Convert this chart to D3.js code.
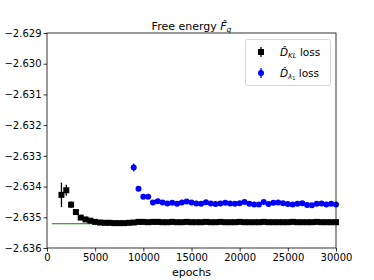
<!DOCTYPE html>
<html><head><meta charset="utf-8">
<script src="https://cdn.jsdelivr.net/npm/d3@7"></script>
<style>body{margin:0;background:#fff}svg{display:block}text{font-family:"DejaVu Sans",sans-serif}</style>
</head><body><svg id="c" width="374" height="280"></svg>
<script>
const klEpochs = d3.range(1500, 30001, 500);
const klValues = [-2.63427,-2.63412,-2.63459,-2.63483,-2.63501,-2.63507,-2.63511,-2.63515,-2.63517,-2.63518,
 -2.63518,-2.63519,-2.63519,-2.63519,-2.63518,-2.63517,-2.63515,-2.63515,-2.63516,-2.63515,
 -2.63515,-2.63516,-2.63516,-2.63515,-2.63516,-2.63516,-2.63515,-2.63516,-2.63516,-2.63516,
 -2.63515,-2.63516,-2.63516,-2.63515,-2.63516,-2.63516,-2.63516,-2.63515,-2.63516,-2.63516,
 -2.63516,-2.63516,-2.63515,-2.63516,-2.63516,-2.63516,-2.63516,-2.63516,-2.63515,-2.63516,
 -2.63516,-2.63516,-2.63516,-2.63515,-2.63516,-2.63516,-2.63516,-2.63516];
const klErrors = [0.0004,0.00018,0.0001,0.00005].concat(d3.range(54).map(()=>0.00003));
const lamEpochs = d3.range(9000, 30001, 500);
const lamValues = [-2.63338,-2.63407,-2.63433,-2.63433,
 -2.63452,-2.63448,-2.63452,-2.63455,-2.63453,-2.63456,-2.63452,-2.63449,-2.63452,-2.63455,
 -2.63456,-2.63451,-2.63455,-2.63457,-2.63455,-2.63453,-2.63455,-2.63456,-2.63454,-2.63450,
 -2.63456,-2.63458,-2.63458,-2.63450,-2.63457,-2.63453,-2.63452,-2.63454,-2.63457,-2.63458,
 -2.63456,-2.63454,-2.63460,-2.63461,-2.63456,-2.63455,-2.63458,-2.63456,-2.63458];
const lamErrors = [0.00013,0.00008,0.00006,0.00006].concat(d3.range(39).map(()=>0.00005));
const refLine = {x0: 500, x1: 30000, y: -2.63521};
const xTicks = [0,5000,10000,15000,20000,25000,30000];
const yTicks = [-2.636,-2.635,-2.634,-2.633,-2.632,-2.631,-2.630,-2.629];

const svg = d3.select("#c");
const m = {l:47, r:336, t:33, b:248};
const x = d3.scaleLinear().domain([0,30000]).range([m.l, m.r]);
const y = d3.scaleLinear().domain([-2.636,-2.629]).range([m.b, m.t]);
const fmt = v => d3.format(".3f")(v).replace("-", "\u2212");
const S = 6, R = 3;

svg.append("rect").attr("width",374).attr("height",280).attr("fill","#fff");

svg.append("line").attr("x1",x(refLine.x0)).attr("x2",x(refLine.x1))
  .attr("y1",y(refLine.y)).attr("y2",y(refLine.y)).attr("stroke","#008000").attr("stroke-width",1.2);

function series(ep, vals, errs, color, shape){
  const g = svg.append("g");
  g.selectAll("line").data(ep).join("line")
    .attr("x1",(d)=>x(d)).attr("x2",(d)=>x(d))
    .attr("y1",(d,i)=>y(vals[i]-errs[i])).attr("y2",(d,i)=>y(vals[i]+errs[i]))
    .attr("stroke",color).attr("stroke-width",1.3);
  if(shape==="square"){
    g.selectAll("rect").data(ep).join("rect")
      .attr("x",d=>x(d)-S/2).attr("y",(d,i)=>y(vals[i])-S/2).attr("width",S).attr("height",S).attr("fill",color);
  } else {
    g.selectAll("circle").data(ep).join("circle")
      .attr("cx",d=>x(d)).attr("cy",(d,i)=>y(vals[i])).attr("r",R).attr("fill",color);
  }
}
series(klEpochs, klValues, klErrors, "#000", "square");
series(lamEpochs, lamValues, lamErrors, "#0000ff", "circle");

const xa = svg.append("g").attr("transform",`translate(0,${m.b})`)
  .call(d3.axisBottom(x).tickValues(xTicks).tickFormat(d3.format("d")).tickSize(3.5).tickPadding(2));
const ya = svg.append("g").attr("transform",`translate(${m.l},0)`)
  .call(d3.axisLeft(y).tickValues(yTicks).tickFormat(fmt).tickSize(3.5).tickPadding(2));
[xa,ya].forEach(a=>{a.select(".domain").remove(); a.selectAll("text").attr("font-size",10).attr("fill","#000").attr("font-family","DejaVu Sans"); a.selectAll("line").attr("stroke","#000").attr("stroke-width",0.8);});
svg.append("rect").attr("x",m.l).attr("y",m.t).attr("width",m.r-m.l).attr("height",m.b-m.t)
  .attr("fill","none").attr("stroke","#000").attr("stroke-width",0.8);

svg.append("text").attr("x",(m.l+m.r)/2).attr("y",276).attr("text-anchor","middle").attr("font-size",11).text("epochs");
const t = svg.append("text").attr("x",(m.l+m.r)/2).attr("y",30).attr("text-anchor","middle").attr("font-size",11);
t.append("tspan").text("Free energy ");
t.append("tspan").attr("font-style","italic").text("F\u0302");
t.append("tspan").attr("font-style","italic").attr("font-size",7.5).attr("dy",2).text("q");

const lg = svg.append("g");
lg.append("rect").attr("x",245.5).attr("y",39.5).attr("width",85).attr("height",46).attr("rx",2)
  .attr("fill","#fff").attr("fill-opacity",0.8).attr("stroke","#ccc").attr("stroke-width",0.8);
const rows = [{c:"#000",s:"square",sub:"KL",y:52},{c:"#0000ff",s:"circle",sub:"\u03bb",sub2:"1",y:73}];
rows.forEach(r=>{
  lg.append("line").attr("x1",261).attr("x2",261).attr("y1",r.y-5).attr("y2",r.y+5).attr("stroke",r.c).attr("stroke-width",1.3);
  if(r.s==="square") lg.append("rect").attr("x",261-S/2).attr("y",r.y-S/2).attr("width",S).attr("height",S).attr("fill",r.c);
  else lg.append("circle").attr("cx",261).attr("cy",r.y).attr("r",R).attr("fill",r.c);
  const tx = lg.append("text").attr("x",280).attr("y",r.y+4).attr("font-size",10.5);
  tx.append("tspan").attr("font-style","italic").text("D\u0302");
  tx.append("tspan").attr("font-style","italic").attr("font-size",7).attr("dy",2).text(r.sub);
  if(r.sub2) tx.append("tspan").attr("font-size",5).attr("dy",1).text(r.sub2);
  tx.append("tspan").attr("dy", r.sub2? -3 : -2).text(" loss");
});
</script></body></html>
